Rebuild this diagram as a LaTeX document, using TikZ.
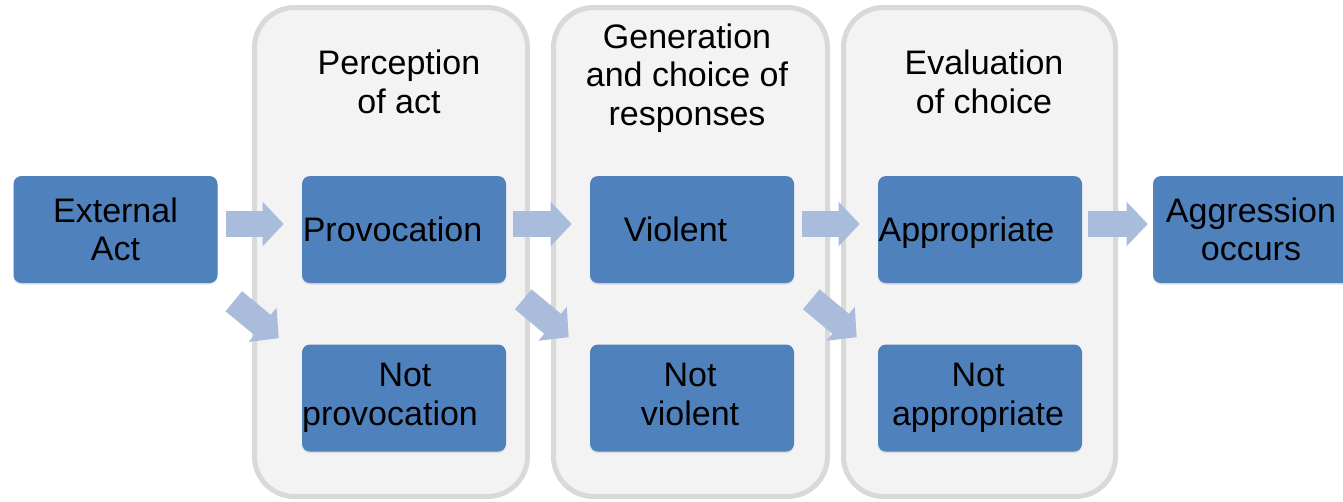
\documentclass[tikz,border=0pt]{standalone}
\usepackage{fontspec}
\setmainfont{Liberation Sans}
\usetikzlibrary{calc,arrows.meta,shadows}
\definecolor{boxblue}{HTML}{4F81BD}
\definecolor{arrowblue}{HTML}{AABCDB}
\definecolor{panelfill}{HTML}{F3F3F3}
\definecolor{paneldraw}{HTML}{D9D9D9}

\begin{document}
\begin{tikzpicture}[x=0.75pt,y=-0.75pt,
	every node/.style={font=\fontsize{25.5}{29}\selectfont, align=center},
	panel/.style={draw=paneldraw, fill=panelfill, line width=3.75pt, rounded corners=30pt, inner sep=0pt},
	box/.style={fill=boxblue, rounded corners=6pt, minimum width=153pt, minimum height=80.25pt, inner sep=0pt,
		drop shadow={opacity=0.22, shadow xshift=0pt, shadow yshift=-1.2pt}},
	fat/.style={arrowblue, line width=19.5pt, -{Triangle[length=15.75pt,width=32.25pt]}}]
				\useasboundingbox (0,0) rectangle (1343,501);
				\clip (0,0) rectangle (1343,501);
				% stages
				\node[panel, minimum width=204.75pt, minimum height=366.75pt] (perc) at (391,252) {};
				\node[panel, minimum width=205.5pt, minimum height=366.75pt] (gen) at (690.5,252) {};
				\node[panel, minimum width=204pt, minimum height=366.75pt] (eval) at (979.5,252) {};
				\node (perct) at (399,82) {Perception\\of act};
				\node (gent) at (687,78) {Generation\\and choice of\\responses};
				\node (evalt) at (984,82) {Evaluation\\of choice};
				% outcomes
				\node[box] (ext) at (115.5,229.5) {External\\Act};
				\node[box, label={[xshift=-8.6pt]center:Provocation}] (prov) at (404,229.5) {};
				\node[box, label={[xshift=-10.5pt]center:\hspace*{22.5pt}Not\\provocation}] (notprov) at (404,398) {};
				\node[box, label={[xshift=-12.4pt]center:Violent}] (viol) at (692,229.5) {};
				\node[box, label={[xshift=-1.5pt,yshift=2.5pt]center:Not\\violent}] (notviol) at (692,398) {};
				\node[box, label={[xshift=-10.1pt,yshift=-2.2pt]center:Appropriate}] (appr) at (980,229.5) {};
				\node[box, label={[xshift=-1.5pt]center:Not\\appropriate}] (notappr) at (980,398) {};
				\node[box, label={[xshift=-3pt]center:Aggression\\occurs}] (aggr) at (1255,229.5) {};
				% arrows
				\draw[fat] ($(ext.east)+(8,-5.5)$) -- ($(prov.west)+(-18,-5.5)$);
				\draw[fat] ($(prov.east)+(7,-5.5)$) -- ($(viol.west)+(-18,-5.5)$);
				\draw[fat] ($(viol.east)+(8,-5.5)$) -- ($(appr.west)+(-18,-5.5)$);
				\draw[fat] ($(appr.east)+(6,-5.5)$) -- ($(aggr.west)+(-5,-5.5)$);
				\draw[fat] ($(ext.south east)+(16,18)$) -- ($(notprov.north west)+(-23,-6)$);
				\draw[fat] ($(prov.south east)+(17,16)$) -- ($(notviol.north west)+(-21,-7)$);
				\draw[fat] ($(viol.south east)+(17,16)$) -- ($(notappr.north west)+(-21,-7)$);
			\end{tikzpicture}
\end{document}
